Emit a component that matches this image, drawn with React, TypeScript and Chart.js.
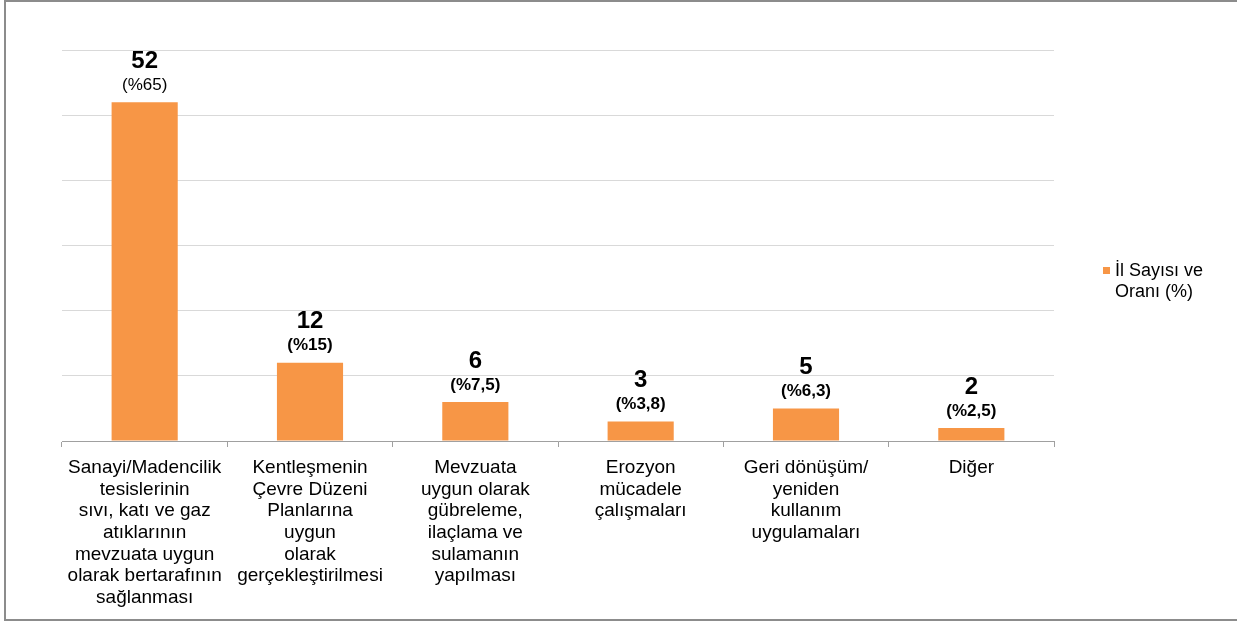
import React, { useEffect, useRef } from "react";
import { Chart, registerables } from "chart.js";

Chart.register(...registerables);

const categories: string[][] = [
  ["Sanayi/Madencilik", "tesislerinin", "sıvı, katı ve gaz", "atıklarının", "mevzuata uygun", "olarak bertarafının", "sağlanması"],
  ["Kentleşmenin", "Çevre Düzeni", "Planlarına", "uygun", "olarak", "gerçekleştirilmesi"],
  ["Mevzuata", "uygun olarak", "gübreleme,", "ilaçlama ve", "sulamanın", "yapılması"],
  ["Erozyon", "mücadele", "çalışmaları"],
  ["Geri dönüşüm/", "yeniden", "kullanım", "uygulamaları"],
  ["Diğer"],
];
const values: number[] = [52, 12, 6, 3, 5, 2];
const percents: string[] = ["(%65)", "(%15)", "(%7,5)", "(%3,8)", "(%6,3)", "(%2,5)"];
const seriesName: string[] = ["İl Sayısı ve", "Oranı (%)"];

const ORANGE = "#F79646";
const FONT = "'Liberation Sans', Arial, sans-serif";

export default function App() {
  const ref = useRef<HTMLCanvasElement | null>(null);

  useEffect(() => {
    document.body.style.margin = "0";
    const canvas = ref.current;
    if (!canvas) return;

    const labelPlugin = {
      id: "valueLabels",
      afterDatasetsDraw(chart: any) {
        const ctx = chart.ctx;
        const meta = chart.getDatasetMeta(0);
        ctx.save();
        ctx.textAlign = "center";
        ctx.textBaseline = "middle";
        ctx.fillStyle = "#000";
        meta.data.forEach((bar: any, i: number) => {
          const x = bar.x;
          const y = bar.y;
          ctx.font = `bold 24px ${FONT}`;
          ctx.fillText(String(values[i]), x, y - 41);
          ctx.font = `${i === 0 ? "" : "bold "}17px ${FONT}`;
          ctx.fillText(percents[i], x, y - 17);
        });
        ctx.restore();
      },
    };

    const decorPlugin = {
      id: "decor",
      afterDraw(chart: any) {
        const ctx = chart.ctx;
        ctx.save();
        // border
        ctx.strokeStyle = "#8c8c8c";
        ctx.lineWidth = 2;
        ctx.beginPath();
        ctx.moveTo(1300, 1);
        ctx.lineTo(5, 1);
        ctx.lineTo(5, 620);
        ctx.lineTo(1300, 620);
        ctx.stroke();
        // legend
        ctx.fillStyle = ORANGE;
        ctx.fillRect(1103, 267, 7, 7);
        ctx.fillStyle = "#000";
        ctx.font = `18px ${FONT}`;
        ctx.textAlign = "left";
        ctx.textBaseline = "middle";
        ctx.fillText(seriesName[0], 1115, 271);
        ctx.fillText(seriesName[1], 1115, 292);
        ctx.restore();
      },
    };

    const chart = new Chart(canvas, {
      type: "bar",
      data: {
        labels: categories,
        datasets: [
          {
            label: seriesName.join(" "),
            data: values,
            backgroundColor: ORANGE,
            barPercentage: 0.4,
            categoryPercentage: 1,
          },
        ],
      },
      options: {
        responsive: false,
        animation: false,
        layout: { padding: { left: 62, right: 183, top: 50, bottom: 0 } },
        plugins: {
          legend: { display: false },
          tooltip: { enabled: false },
        },
        scales: {
          y: {
            min: 0,
            max: 60,
            ticks: { stepSize: 10, display: false },
            grid: { color: "#d9d9d9", drawTicks: false, lineWidth: 1 },
            border: { display: false },
            afterFit(axis: any) {
              axis.width = 0;
            },
          },
          x: {
            grid: {
              drawOnChartArea: false,
              drawTicks: true,
              tickLength: 6,
              color: "#a0a0a0",
              offset: true,
            },
            border: { display: true, color: "#a0a0a0", width: 1 },
            ticks: {
              autoSkip: false,
              maxRotation: 0,
              minRotation: 0,
              color: "#000",
              padding: 10,
              font: { family: FONT, size: 19, lineHeight: 1.14 },
            },
            afterFit(axis: any) {
              axis.height = 181;
            },
          },
        },
      },
      plugins: [labelPlugin, decorPlugin],
    });

    return () => chart.destroy();
  }, []);

  return (
    <div style={{ width: 1237, height: 622, background: "#fff" }}>
      <canvas ref={ref} width={1237} height={622} style={{ display: "block" }} />
    </div>
  );
}
